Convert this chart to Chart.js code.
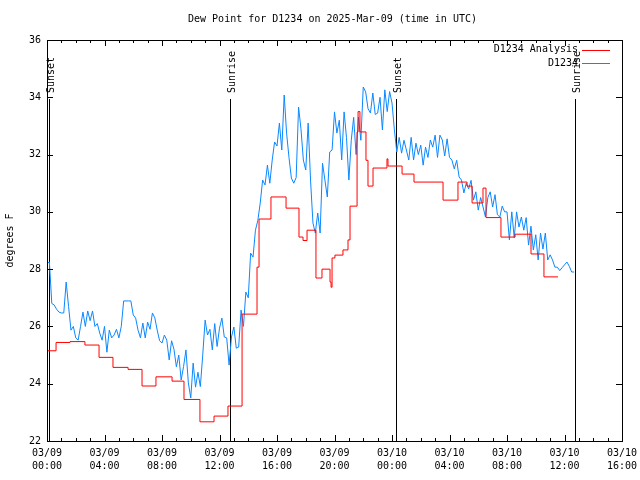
<!DOCTYPE html>
<html>
<head>
<meta charset="utf-8">
<script src="https://cdn.jsdelivr.net/npm/chart.js@4/dist/chart.umd.min.js"></script>
<style>
  body { margin: 0; background: #fff; }
  canvas { display: block; }
</style>
</head>
<body>
<canvas id="dewChart" width="640" height="480"></canvas>
<script>
// observed dew point, one reading every 10 minutes from 03/09 00:00 UTC
var obsStartHour = 0;
var obsStepMinutes = 10;
var obsDew = [
    28.2, 28.25, 26.8, 26.75, 26.6, 26.5, 26.47, 26.47, 27.55, 26.7,
    25.87, 26.0, 25.6, 25.52, 26.0, 26.5, 26.0, 26.54, 26.2, 26.54,
    26.0, 26.1, 25.77, 25.52, 26.0, 25.1, 25.87, 25.6, 25.7, 25.9,
    25.6, 26.0, 26.89, 26.89, 26.89, 26.89, 26.4, 26.29, 25.87, 25.6,
    26.12, 25.6, 26.15, 25.9, 26.47, 26.3, 25.87, 25.5, 25.42, 25.7,
    25.52, 24.83, 25.5, 25.2, 24.59, 25.0, 24.13, 24.6, 25.18, 24.03,
    23.5, 24.72, 23.88, 24.4, 23.9, 25.0, 26.22, 25.7, 25.9, 25.18,
    26.1, 25.3, 25.94, 26.29, 25.63, 25.6, 24.65, 25.63, 25.98, 25.24,
    25.28, 26.57, 26.0, 27.2, 27.0, 28.56, 28.42, 29.36, 29.7, 30.31,
    31.11, 30.94, 31.63, 31.0, 31.81, 32.44, 32.3, 33.1, 32.16, 34.08,
    32.75, 31.9, 31.18, 31.0, 31.2, 33.66, 32.9, 31.81, 31.46, 33.1,
    31.11, 29.61, 29.26, 29.96, 29.26, 31.7, 31.11, 30.52, 32.09, 32.16,
    33.49, 32.75, 33.2, 31.81, 33.49, 32.6, 31.11, 32.5, 33.3, 32.0,
    33.31, 32.5, 34.36, 34.19, 33.6, 33.45, 34.15, 33.4, 33.45, 34.0,
    32.86, 34.26, 33.5, 34.2, 33.8, 32.86, 32.09, 32.6, 32.05, 32.5,
    32.16, 31.81, 32.6, 31.81, 32.4, 32.0, 32.33, 31.63, 32.26, 31.9,
    32.51, 32.26, 32.68, 31.9, 32.68, 32.51, 31.95, 32.55, 31.9, 31.81,
    31.5, 31.8, 31.22, 31.11, 30.66, 31.0, 30.8, 31.1, 30.41, 30.7,
    30.06, 30.5, 30.17, 29.82, 30.5, 30.7, 30.17, 30.6, 29.9, 29.82,
    30.2, 30.0, 30.0, 29.02, 30.0, 29.1, 30.0, 29.47, 29.82, 29.36,
    29.8, 28.84, 29.5, 28.67, 29.2, 28.32, 29.26, 28.7, 29.26, 28.32,
    28.5, 28.32, 28.07, 28.07, 27.95, 28.05, 28.15, 28.25, 28.1, 27.9,
    27.9
];

// analysis dew point: hour (from 03/09 00:00) where each value starts
var anaHours = [
    0, 0.63, 1.6, 2.64, 3.62, 4.59, 5.64, 6.61, 7.58, 8.7,
    9.53, 10.64, 11.62, 12.59, 13.57, 14.61, 14.75, 15.58, 16.63, 17.53,
    17.81, 18.09, 18.71, 19.13, 19.69, 19.76, 19.83, 20.03, 20.59, 20.94,
    21.08, 21.57, 21.64, 21.77, 22.19, 22.33, 22.68, 23.65, 23.72, 24.7,
    25.53, 27.55, 28.59, 29.22, 29.57, 30.33, 30.54, 31.58, 32.56, 33.67,
    34.57, 35.55
];
var anaDew = [
    25.15, 25.44, 25.47, 25.35, 24.92, 24.57, 24.5, 23.92, 24.24, 24.09,
    23.45, 22.67, 22.87, 23.22, 26.43, 28.07, 29.75, 30.52, 30.13, 29.12,
    29.0, 29.36, 27.69, 28.0, 27.55, 27.37, 28.39, 28.49, 28.67, 29.02,
    30.2, 32.79, 33.5, 32.79, 31.8, 30.9, 31.53, 31.85, 31.6, 31.32,
    31.04, 30.41, 31.04, 30.9, 30.31, 30.83, 29.8, 29.12, 29.22, 28.53,
    27.73, 27.73
];

var sunLabels = ['Sunset', 'Sunrise', 'Sunset', 'Sunrise'];
var sunHours = [0.14, 12.73, 24.28, 36.73];

var xTickLabels = [
    ['03/09', '00:00'], ['03/09', '04:00'], ['03/09', '08:00'], ['03/09', '12:00'],
    ['03/09', '16:00'], ['03/09', '20:00'], ['03/10', '00:00'], ['03/10', '04:00'],
    ['03/10', '08:00'], ['03/10', '12:00'], ['03/10', '16:00']
];

var chartTitle = 'Dew Point for D1234 on 2025-Mar-09 (time in UTC)';
var monoFont = '"DejaVu Sans Mono", "Liberation Mono", monospace';

var obsPoints = obsDew.map(function (v, i) {
    return { x: obsStartHour + i * obsStepMinutes / 60, y: v };
});
var anaPoints = anaDew.map(function (v, i) {
    return { x: anaHours[i], y: v };
});

// gnuplot-like frame, inward ticks, title, sun markers and key
var gnuplotDecor = {
    id: 'gnuplotDecor',
    beforeDatasetsDraw: function (chart) {
        var ctx = chart.ctx;
        var xs = chart.scales.x, ys = chart.scales.y;
        var a = chart.chartArea;
        var yTop = ys.getPixelForValue(33.94);
        ctx.save();
        ctx.strokeStyle = '#000';
        ctx.lineWidth = 1;
        ctx.fillStyle = '#000';
        ctx.font = '10px ' + monoFont;

        ctx.textAlign = 'center';
        ctx.textBaseline = 'middle';
        ctx.fillText(chartTitle, (a.left + a.right) / 2 - 2, 19);

        for (var i = 0; i < sunHours.length; i++) {
            var px = Math.round(xs.getPixelForValue(sunHours[i])) + 0.5;
            ctx.beginPath();
            ctx.moveTo(px, yTop);
            ctx.lineTo(px, a.bottom);
            ctx.stroke();
            ctx.save();
            ctx.translate(px + 2, yTop - 6);
            ctx.rotate(-Math.PI / 2);
            ctx.textAlign = 'left';
            ctx.textBaseline = 'middle';
            ctx.fillText(sunLabels[i], 0, 0);
            ctx.restore();
        }
        ctx.restore();
    },
    afterDraw: function (chart) {
        var ctx = chart.ctx;
        var a = chart.chartArea;
        var xs = chart.scales.x, ys = chart.scales.y;
        ctx.save();
        ctx.strokeStyle = '#000';
        ctx.lineWidth = 1;
        ctx.strokeRect(Math.round(a.left) + 0.5, Math.round(a.top) + 0.5,
            Math.round(a.right - a.left), Math.round(a.bottom - a.top));
        ctx.beginPath();
        for (var h = xs.min; h <= xs.max; h++) {
            var px = Math.round(xs.getPixelForValue(h)) + 0.5;
            var len = (h % 4 === 0) ? 6 : 3;
            ctx.moveTo(px, a.bottom);
            ctx.lineTo(px, a.bottom - len);
            ctx.moveTo(px, a.top);
            ctx.lineTo(px, a.top + len);
        }
        ys.ticks.forEach(function (t) {
            var py = Math.round(ys.getPixelForValue(t.value)) + 0.5;
            ctx.moveTo(a.left, py);
            ctx.lineTo(a.left + 6, py);
            ctx.moveTo(a.right, py);
            ctx.lineTo(a.right - 6, py);
        });
        ctx.stroke();

        // key in the top right corner
        ctx.font = '10px ' + monoFont;
        ctx.textAlign = 'right';
        ctx.textBaseline = 'middle';
        ctx.fillStyle = '#000';
        chart.data.datasets.forEach(function (ds, i) {
            var ky = 49.5 + i * 13.5;
            ctx.fillText(ds.label, 578, ky);
            ctx.strokeStyle = ds.borderColor;
            ctx.beginPath();
            ctx.moveTo(582, Math.round(ky) + 0.5);
            ctx.lineTo(610, Math.round(ky) + 0.5);
            ctx.stroke();
        });
        ctx.restore();
    }
};

new Chart(document.getElementById('dewChart'), {
    type: 'line',
    data: {
        datasets: [{
            label: 'D1234 Analysis',
            data: anaPoints,
            borderColor: '#ff0000',
            borderWidth: 1,
            pointRadius: 0,
            stepped: 'before',
            fill: false
        }, {
            label: 'D1234',
            data: obsPoints,
            borderColor: '#0a88ff',
            borderWidth: 1,
            pointRadius: 0,
            tension: 0,
            fill: false
        }]
    },
    options: {
        responsive: false,
        animation: false,
        layout: { padding: { left: 0, right: 18, top: 40, bottom: 0 } },
        plugins: {
            legend: { display: false },
            tooltip: { enabled: false },
            title: { display: false }
        },
        scales: {
            x: {
                type: 'linear',
                min: 0,
                max: 40,
                grid: { display: false, drawTicks: false },
                border: { display: false },
                ticks: {
                    stepSize: 4,
                    maxRotation: 0,
                    autoSkip: false,
                    padding: 6,
                    color: '#000',
                    font: { family: monoFont, size: 10, lineHeight: 1.3 },
                    callback: function (value, index) { return xTickLabels[index]; }
                },
                afterFit: function (scale) {
                    scale.height = 39;
                    scale.paddingLeft = 0;
                    scale.paddingRight = 0;
                }
            },
            y: {
                min: 22,
                max: 36,
                grid: { display: false, drawTicks: false },
                border: { display: false },
                ticks: {
                    stepSize: 2,
                    padding: 6,
                    color: '#000',
                    font: { family: monoFont, size: 10 }
                },
                title: {
                    display: true,
                    text: 'degrees F',
                    color: '#000',
                    font: { family: monoFont, size: 10 },
                    padding: { top: 4, bottom: 0 }
                },
                afterFit: function (scale) { scale.width = 47; }
            }
        }
    },
    plugins: [gnuplotDecor]
});
</script>
</body>
</html>
